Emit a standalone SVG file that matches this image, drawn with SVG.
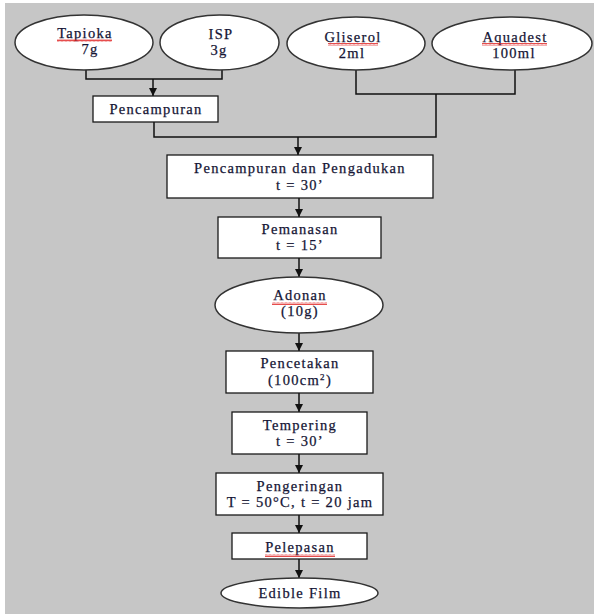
<svg xmlns="http://www.w3.org/2000/svg" width="596" height="614" viewBox="0 0 596 614">
<style>
.bg{fill:#c6c6c6}
.box{fill:#ffffff;stroke:#1a1a1a;stroke-width:1.3}
.ell{fill:#ffffff;stroke:#333333;stroke-width:1.5}
.t{font-family:"Liberation Serif","Times New Roman",serif;font-size:14.5px;letter-spacing:1.3px;fill:#151535;stroke:#151535;stroke-width:0.25;text-anchor:middle}
.c{fill:none;stroke:#111111;stroke-width:1.5}
.sq{fill:url(#wave)}
</style>
<defs>
<marker id="ah" viewBox="0 0 10 10" refX="10" refY="5" markerWidth="8" markerHeight="8" markerUnits="userSpaceOnUse" orient="auto">
<path d="M0,0 L10,5 L0,10 z" fill="#111111"/>
</marker>
<pattern id="wave" width="4" height="3" patternUnits="userSpaceOnUse">
<path d="M0,2.5 L1,0.5 L2,2.5 L3,0.5 L4,2.5" fill="none" stroke="#e02020" stroke-width="0.8"/>
</pattern>
</defs>
<rect class="bg" x="5" y="3" width="589" height="611"/>

<g id="connectors">
<polyline class="c" points="86,70 86,79 222,79 222,70"/>
<line class="c" x1="153" y1="79" x2="153" y2="96" marker-end="url(#ah)"/>
<polyline class="c" points="356,70 356,94 515,94 515,70"/>
<polyline class="c" points="154,122 154,137 436,137 436,94"/>
<line class="c" x1="298" y1="137" x2="298" y2="155" marker-end="url(#ah)"/>
<line class="c" x1="299" y1="198" x2="299" y2="217" marker-end="url(#ah)"/>
<line class="c" x1="299" y1="258" x2="299" y2="277" marker-end="url(#ah)"/>
<line class="c" x1="299" y1="333" x2="299" y2="351" marker-end="url(#ah)"/>
<line class="c" x1="299" y1="393" x2="299" y2="412" marker-end="url(#ah)"/>
<line class="c" x1="299" y1="454" x2="299" y2="473" marker-end="url(#ah)"/>
<line class="c" x1="299" y1="515" x2="299" y2="533" marker-end="url(#ah)"/>
<line class="c" x1="299" y1="559" x2="299" y2="578" marker-end="url(#ah)"/>
</g>

<g id="tapioka">
<ellipse class="ell" cx="84" cy="42.5" rx="69" ry="27.5"/>
<text class="t" x="85" y="38">Tapioka</text>
<text class="t" x="90" y="54">7g</text>
<rect class="sq" x="57" y="39" width="55" height="3"/>
</g>
<g id="isp">
<ellipse class="ell" cx="219.5" cy="42.5" rx="59.5" ry="27.5"/>
<text class="t" x="221" y="39">ISP</text>
<text class="t" x="219" y="55">3g</text>
</g>
<g id="gliserol">
<ellipse class="ell" cx="356" cy="43.5" rx="69" ry="26.5"/>
<text class="t" x="353" y="42">Gliserol</text>
<text class="t" x="352" y="58">2ml</text>
<rect class="sq" x="328" y="43" width="50" height="3"/>
</g>
<g id="aquadest">
<ellipse class="ell" cx="512" cy="43.5" rx="80" ry="26.5"/>
<text class="t" x="515" y="42">Aquadest</text>
<text class="t" x="514" y="58">100ml</text>
<rect class="sq" x="482" y="43" width="65" height="3"/>
</g>
<g id="pencampuran">
<rect class="box" x="93" y="96" width="125" height="26"/>
<text class="t" x="156" y="114">Pencampuran</text>
</g>
<g id="pengadukan">
<rect class="box" x="167" y="155" width="266" height="43"/>
<text class="t" x="300" y="173">Pencampuran dan Pengadukan</text>
<text class="t" x="300" y="190">t = 30’</text>
</g>
<g id="pemanasan">
<rect class="box" x="218" y="217" width="163" height="41"/>
<text class="t" x="300" y="234">Pemanasan</text>
<text class="t" x="300" y="250">t = 15’</text>
</g>
<g id="adonan">
<ellipse class="ell" cx="299" cy="305" rx="84" ry="28"/>
<text class="t" x="300" y="300">Adonan</text>
<text class="t" x="300" y="316">(10g)</text>
<rect class="sq" x="272" y="302" width="55" height="3"/>
</g>
<g id="pencetakan">
<rect class="box" x="226" y="351" width="147" height="42"/>
<text class="t" x="300" y="368">Pencetakan</text>
<text class="t" x="300" y="385">(100cm<tspan font-size="9" dy="-5">2</tspan><tspan dy="5">)</tspan></text>
</g>
<g id="tempering">
<rect class="box" x="232" y="412" width="135" height="42"/>
<text class="t" x="300" y="430">Tempering</text>
<text class="t" x="300" y="446">t = 30’</text>
</g>
<g id="pengeringan">
<rect class="box" x="216" y="473" width="167" height="42"/>
<text class="t" x="300" y="491">Pengeringan</text>
<text class="t" x="300" y="507">T = 50°C, t = 20 jam</text>
</g>
<g id="pelepasan">
<rect class="box" x="232" y="533" width="135" height="26"/>
<text class="t" x="300" y="552">Pelepasan</text>
<rect class="sq" x="265" y="554" width="70" height="3"/>
</g>
<g id="ediblefilm">
<ellipse class="ell" cx="299.5" cy="593" rx="78.5" ry="15"/>
<text class="t" x="300" y="598">Edible Film</text>
</g>
</svg>
